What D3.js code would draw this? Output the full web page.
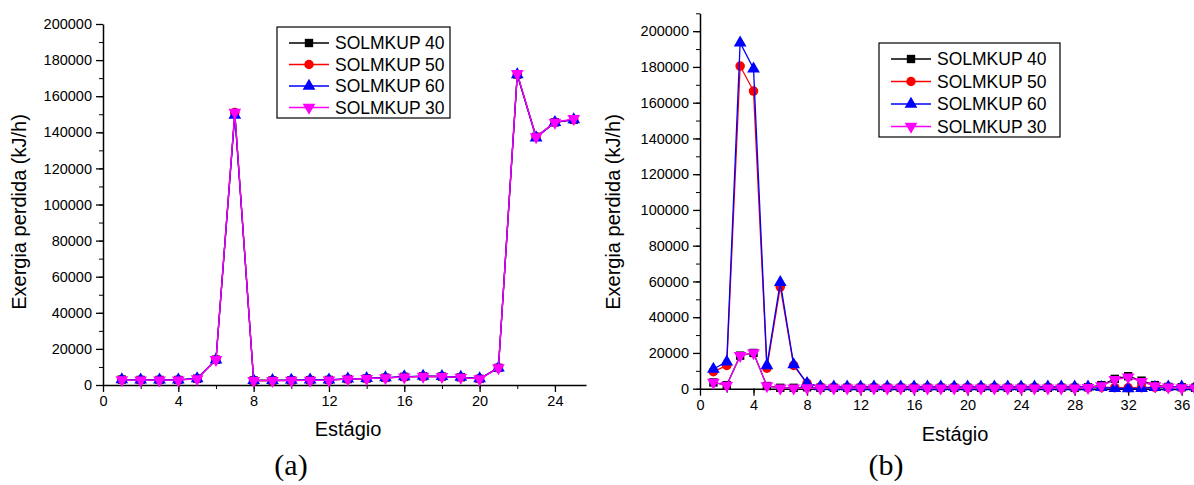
<!DOCTYPE html>
<html>
<head>
<meta charset="utf-8">
<script src="https://cdn.jsdelivr.net/npm/d3@7"></script>
<style>
  body { margin: 0; background: #fff; }
  text { font-family: "Liberation Sans", Arial, sans-serif; fill: #000; }
</style>
</head>
<body>
<script>
var w = 1194;
var h = 485;

// painel (a)
var estagioA = [1,2,3,4,5,6,7,8,9,10,11,12,13,14,15,16,17,18,19,20,21,22,23,24,25];
var s40A = [3000,2800,2800,2800,3500,14000,150500,2500,2500,2600,2700,2800,3300,3600,4000,4500,4800,4700,4300,3400,9500,172000,137500,145500,147000];
var s50A = [3000,2800,2800,2800,3500,14000,151000,2500,2500,2600,2700,2800,3300,3600,4000,4500,4800,4700,4300,3400,9500,172000,137500,145500,147000];
var s60A = [3000,2800,2800,2800,3600,14000,149500,2600,2600,2700,2800,2900,3400,3700,4100,4600,4900,4800,4400,3500,9500,172000,137000,145500,147000];
var s30A = [2800,2700,2700,2700,3400,14000,151000,2400,2400,2500,2600,2700,3200,3500,3900,4400,4700,4600,4200,3300,9500,172500,137500,145500,147500];

// painel (b)
var estagioB = [1,2,3,4,5,6,7,8,9,10,11,12,13,14,15,16,17,18,19,20,21,22,23,24,25,26,27,28,29,30,31,32,33,34,35,36,37];
var s40B = [3500,2000,18500,20000,1500,500,500,800,500,500,500,500,500,500,500,500,500,500,500,500,500,500,500,500,500,500,500,500,800,2000,5500,7000,4500,2000,1000,800,500];
var s50B = [9500,13000,180500,166500,11500,57000,13000,3000,1000,800,800,800,800,800,800,800,800,800,800,800,800,800,800,800,800,800,800,800,800,800,600,500,600,800,800,800,800];
var s60B = [11000,15000,193500,179000,13000,59500,13500,3000,1200,1000,1000,1000,1000,1000,1000,1000,1000,1000,1000,1000,1000,1000,1000,1000,1000,1000,1000,1000,1000,800,200,100,200,800,1000,1000,1000];
var s30B = [3500,1800,18500,20000,1500,300,300,500,300,300,300,300,300,300,300,300,300,300,300,300,300,300,300,300,300,300,300,300,600,1500,5000,6500,4000,1500,800,500,300];

var nomes = ["SOLMKUP 40", "SOLMKUP 50", "SOLMKUP 60", "SOLMKUP 30"];
var cores = ["#000000", "#ff0000", "#0000ff", "#ff00ff"];
var simbolos = [d3.symbolSquare, d3.symbolCircle, d3.symbolTriangle, d3.symbolTriangle];
var rotacao = [0, 0, 0, 180];

var xTicksA = [0,4,8,12,16,20,24];
var xTicksB = [0,4,8,12,16,20,24,28,32,36];
var yTicks = [0,20000,40000,60000,80000,100000,120000,140000,160000,180000,200000];

var svg = d3.select("body").append("svg")
    .attr("width", w)
    .attr("height", h);

function painel(cfg) {
    var x = d3.scaleLinear().domain(cfg.xDom).range(cfg.xRange);
    var y = d3.scaleLinear().domain(cfg.yDom).range(cfg.yRange);
    var g = svg.append("g");

    // ticks menores
    var xMinor = d3.range(0, cfg.xDom[1], 2);
    var yMinor = d3.range(0, cfg.yDom[1] + 1, 10000);
    g.append("g").attr("transform", "translate(0," + cfg.yRange[0] + ")")
        .call(d3.axisBottom(x).tickValues(xMinor).tickSize(4).tickFormat(""))
        .call(a => a.select(".domain").remove());
    g.append("g").attr("transform", "translate(" + cfg.xRange[0] + ",0)")
        .call(d3.axisLeft(y).tickValues(yMinor).tickSize(4).tickFormat(""))
        .call(a => a.select(".domain").remove());

    var ax = g.append("g").attr("transform", "translate(0," + cfg.yRange[0] + ")")
        .call(d3.axisBottom(x).tickValues(cfg.xTicks).tickSize(7).tickSizeOuter(0).tickPadding(4).tickFormat(d3.format("d")));
    var ay = g.append("g").attr("transform", "translate(" + cfg.xRange[0] + ",0)")
        .call(d3.axisLeft(y).tickValues(yTicks).tickSize(7).tickSizeOuter(0).tickPadding(4).tickFormat(d3.format("d")));
    [ax, ay].forEach(function(a) {
        a.selectAll("text").style("font-size", "14.5px").style("font-family", "Liberation Sans, Arial");
        a.selectAll("line").attr("stroke-width", 1.3);
        a.select(".domain").attr("stroke-width", 1.5);
    });

    // series
    var line = d3.line().x(d => x(d[0])).y(d => y(d[1]));
    cfg.series.forEach(function(vals, k) {
        var pts = cfg.xs.map((v, i) => [v, vals[i]]);
        g.append("path").datum(pts)
            .attr("d", line)
            .attr("fill", "none")
            .attr("stroke", cores[k])
            .attr("stroke-width", 1.3);
        g.selectAll(null).data(pts).enter().append("path")
            .attr("d", d3.symbol().type(simbolos[k]).size(k == 1 ? 72 : 70))
            .attr("transform", d => "translate(" + x(d[0]) + "," + y(d[1]) + ") rotate(" + rotacao[k] + ")")
            .attr("fill", cores[k]);
    });

    // titulos
    g.append("text")
        .attr("x", cfg.xTitle[0]).attr("y", cfg.xTitle[1])
        .attr("text-anchor", "middle").style("font-size", "20px")
        .text("Estágio");
    g.append("text")
        .attr("transform", "translate(" + cfg.yTitle[0] + "," + cfg.yTitle[1] + ") rotate(-90)")
        .attr("text-anchor", "middle").style("font-size", "20px")
        .text("Exergia perdida (kJ/h)");
    g.append("text")
        .attr("x", cfg.tag[0]).attr("y", cfg.tag[1])
        .attr("text-anchor", "middle")
        .style("font-family", "Liberation Serif, Times New Roman, serif")
        .style("font-size", "30px")
        .text(cfg.label);

    // legenda
    var lg = g.append("g").attr("transform", "translate(" + cfg.leg[0] + "," + cfg.leg[1] + ")");
    lg.append("rect")
        .attr("width", cfg.leg[2]).attr("height", cfg.leg[3])
        .attr("fill", "#fff").attr("stroke", "#000").attr("stroke-width", 1.2);
    nomes.forEach(function(n, k) {
        var yy = cfg.legY0 + k * cfg.legDy;
        lg.append("line").attr("x1", 12).attr("x2", 52).attr("y1", yy).attr("y2", yy)
            .attr("stroke", cores[k]).attr("stroke-width", 1.3);
        lg.append("path")
            .attr("d", d3.symbol().type(simbolos[k]).size(70))
            .attr("transform", "translate(32," + yy + ") rotate(" + rotacao[k] + ")")
            .attr("fill", cores[k]);
        lg.append("text").attr("x", 58).attr("y", yy + 6)
            .style("font-size", "17.5px").text(n);
    });
}

painel({
    xs: estagioA, series: [s40A, s50A, s60A, s30A],
    xDom: [0, 25.65], xRange: [103, 586],
    yDom: [0, 200000], yRange: [385, 24],
    xTicks: xTicksA,
    xTitle: [348, 436], yTitle: [26, 212],
    tag: [291, 475], label: "(a)",
    leg: [277, 27, 173, 91], legY0: 16, legDy: 21.5
});

painel({
    xs: estagioB, series: [s40B, s50B, s60B, s30B],
    xDom: [0, 38], xRange: [700, 700 + 38 * 13.38],
    yDom: [0, 210000], yRange: [388.7, 13.3],
    xTicks: xTicksB,
    xTitle: [955, 441], yTitle: [620, 212],
    tag: [886, 475], label: "(b)",
    leg: [879, 43, 181, 94], legY0: 16, legDy: 22.5
});
</script>
</body>
</html>
